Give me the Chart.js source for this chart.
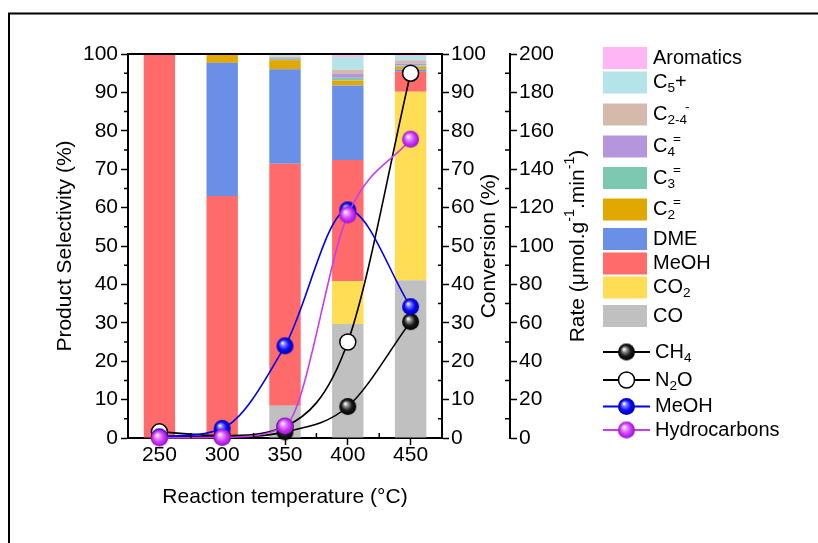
<!DOCTYPE html>
<html>
<head>
<meta charset="utf-8">
<script src="https://cdn.jsdelivr.net/npm/chart.js@4.4.1/dist/chart.umd.min.js"></script>
<style>
  html, body { margin: 0; padding: 0; background: #fff; }
  #wrap { width: 818px; height: 543px; }
</style>
</head>
<body>
<div id="wrap"><canvas id="myChart"></canvas></div>
<script>
/* globals Chart:false */
const temperatures = ["250", "300", "350", "400", "450"];

// product selectivity (%), stacked bottom-up
const coSel = [0, 0, 8.4, 29.7, 41.1];
const co2Sel = [0, 0, 0, 11.2, 49.1];
const meohSel = [100, 63.0, 63.0, 31.5, 5.2];
const dmeSel = [0, 34.7, 24.6, 19.4, 0.5];
const c2eneSel = [0, 2.3, 2.4, 1.3, 0.8];
const c3eneSel = [0, 0, 0.3, 0.7, 0.3];
const c4eneSel = [0, 0, 0.2, 1.0, 0.5];
const c24aneSel = [0, 0, 0.4, 1.1, 0.9];
const c5Sel = [0, 0, 0.7, 3.3, 1.1];
const aromSel = [0, 0, 0, 0.8, 0.4];

// conversion (%)
const ch4Conv = [0.5, 0.3, 1.6, 8.2, 30.3];
const n2oConv = [1.6, 0.6, 3.0, 25.0, 95.0];

// rate (umol g-1 min-1)
const meohRate = [0.6, 5.0, 48.0, 118.8, 68.4];
const hcRate = [0.0, 0.3, 6.2, 116.2, 155.6];

const selTicks = [0, 10, 20, 30, 40, 50, 60, 70, 80, 90, 100];
const convTicks = [0, 10, 20, 30, 40, 50, 60, 70, 80, 90, 100];
const rateTicks = [0, 20, 40, 60, 80, 100, 120, 140, 160, 180, 200];

const FONT = '"Liberation Sans", Arial, sans-serif';

function sphere(light, base, dark, r) {
  const c = document.createElement("canvas");
  const s = Math.ceil(r * 2 + 2);
  c.width = s;
  c.height = s;
  const g = c.getContext("2d");
  const cx = s / 2, cy = s / 2;
  const grad = g.createRadialGradient(cx - r * 0.3, cy - r * 0.35, r * 0.05, cx, cy, r);
  grad.addColorStop(0, "#ffffff");
  grad.addColorStop(0.22, light);
  grad.addColorStop(0.6, base);
  grad.addColorStop(1, dark);
  g.fillStyle = grad;
  g.beginPath();
  g.arc(cx, cy, r, 0, Math.PI * 2);
  g.fill();
  return c;
}

const blackBall = sphere("#9a9a9a", "#1a1a1a", "#000000", 8.5);
const blueBall = sphere("#8080ff", "#0a0aff", "#0000a8", 8.5);
const pinkBall = sphere("#eaa0ff", "#cf3cff", "#9a10c8", 8.5);

// rich text: parts of {t, s} where s = "sub" | "sup"
function drawParts(ctx, parts, x, y, size, doDraw) {
  let cx = x;
  let prev = null;
  for (const p of parts) {
    const fs = p.s ? size * 0.68 : size;
    ctx.font = fs + "px " + FONT;
    const dy = p.s === "sub" ? size * 0.3 : (p.s ? -size * 0.38 : 0);
    // a superscript right after a subscript tucks in slightly
    const px = p.s === "sup" && prev === "sub" ? cx - 2 : cx;
    if (doDraw) ctx.fillText(p.t, px, y + dy);
    cx = px + ctx.measureText(p.t).width;
    prev = p.s || null;
  }
  return cx - x;
}

function barSet(label, rich, data, color) {
  return {
    type: "bar",
    label: label,
    rich: rich,
    data: data,
    backgroundColor: color,
    borderWidth: 0,
    yAxisID: "y",
    order: 10,
  };
}

function lineSet(label, rich, data, color, point, axis, order) {
  return {
    type: "line",
    label: label,
    rich: rich,
    data: data,
    borderColor: color,
    borderWidth: 1.6,
    backgroundColor: "#ffffff",
    pointStyle: point,
    pointRadius: 8,
    pointBorderColor: "#000",
    pointBorderWidth: 1.5,
    cubicInterpolationMode: "monotone",
    yAxisID: axis,
    clip: false,
    order: order,
  };
}

const datasets = [
  barSet("CO", [{ t: "CO" }], coSel, "#c0c0c0"),
  barSet("CO2", [{ t: "CO" }, { t: "2", s: "sub" }], co2Sel, "#ffdd55"),
  barSet("MeOH", [{ t: "MeOH" }], meohSel, "#ff6b6b"),
  barSet("DME", [{ t: "DME" }], dmeSel, "#6a8fe6"),
  barSet("C2=", [{ t: "C" }, { t: "2", s: "sub" }, { t: "=", s: "sup" }], c2eneSel, "#e0a800"),
  barSet("C3=", [{ t: "C" }, { t: "3", s: "sub" }, { t: "=", s: "sup" }], c3eneSel, "#7dc9b0"),
  barSet("C4=", [{ t: "C" }, { t: "4", s: "sub" }, { t: "=", s: "sup" }], c4eneSel, "#b596dd"),
  barSet("C2-4-", [{ t: "C" }, { t: "2-4", s: "sub" }, { t: "-", s: "sup" }], c24aneSel, "#d5baac"),
  barSet("C5+", [{ t: "C" }, { t: "5", s: "sub" }, { t: "+" }], c5Sel, "#b5e4e8"),
  barSet("Aromatics", [{ t: "Aromatics" }], aromSel, "#ffb6f4"),
  lineSet("CH4", [{ t: "CH" }, { t: "4", s: "sub" }], ch4Conv, "#000000", blackBall, "yConv", 4),
  lineSet("N2O", [{ t: "N" }, { t: "2", s: "sub" }, { t: "O" }], n2oConv, "#000000", "circle", "yConv", 3),
  lineSet("MeOH", [{ t: "MeOH" }], meohRate, "#0000ee", blueBall, "yRate", 2),
  lineSet("Hydrocarbons", [{ t: "Hydrocarbons" }], hcRate, "#c83cf0", pinkBall, "yRate", 1),
];

const frame = {
  id: "frame",
  beforeDraw(chart) {
    const ctx = chart.ctx;
    ctx.save();
    ctx.fillStyle = "#fff";
    ctx.fillRect(0, 0, chart.width, chart.height);
    ctx.strokeStyle = "#000";
    ctx.lineWidth = 2;
    ctx.beginPath();
    ctx.moveTo(9, chart.height);
    ctx.lineTo(9, 13.5);
    ctx.lineTo(chart.width, 13.5);
    ctx.stroke();
    ctx.restore();
  },
};

const extras = {
  id: "extras",
  afterDraw(chart) {
    const ctx = chart.ctx;
    const area = chart.chartArea;
    const s = chart.scales;
    ctx.save();
    ctx.strokeStyle = "#000";
    ctx.fillStyle = "#000";

    // top frame line
    ctx.lineWidth = 2;
    ctx.beginPath();
    ctx.moveTo(area.left - 1, area.top);
    ctx.lineTo(area.right + 1, area.top);
    ctx.stroke();

    // minor ticks
    ctx.lineWidth = 1.5;
    ctx.beginPath();
    for (let v = 5; v < 100; v += 10) {
      const py = s.y.getPixelForValue(v);
      ctx.moveTo(area.left, py);
      ctx.lineTo(area.left - 4, py);
      const pc = s.yConv.getPixelForValue(v);
      ctx.moveTo(area.right, pc);
      ctx.lineTo(area.right - 4, pc);
    }
    for (let v = 10; v < 200; v += 20) {
      const pr = s.yRate.getPixelForValue(v);
      ctx.moveTo(s.yRate.left, pr);
      ctx.lineTo(s.yRate.left - 5, pr);
    }
    for (let i = 0; i < temperatures.length - 1; i++) {
      const px = (s.x.getPixelForValue(i) + s.x.getPixelForValue(i + 1)) / 2;
      ctx.moveTo(px, area.bottom);
      ctx.lineTo(px, area.bottom - 5);
    }
    ctx.stroke();

    // right axis titles, reading bottom to top
    const midY = (area.top + area.bottom) / 2;
    const titles = [
      { x: s.yConv.right - 21, parts: [{ t: "Conversion (%)" }] },
      {
        x: s.yRate.right - 10,
        parts: [
          { t: "Rate (\u03bcmol.g" }, { t: "-1", s: "sup" },
          { t: ".min" }, { t: "-1", s: "sup" }, { t: ")" },
        ],
      },
    ];
    ctx.textBaseline = "middle";
    ctx.textAlign = "left";
    for (const tt of titles) {
      const w = drawParts(ctx, tt.parts, 0, 0, 21, false);
      ctx.save();
      ctx.translate(tt.x, midY);
      ctx.rotate(-Math.PI / 2);
      drawParts(ctx, tt.parts, -w / 2, 0, 21, true);
      ctx.restore();
    }

    // legend
    const ds = chart.data.datasets;
    const rows = [
      { i: 9, y: 58 }, { i: 8, y: 82.5 }, { i: 7, y: 114.5 }, { i: 6, y: 146.5 },
      { i: 5, y: 178 }, { i: 4, y: 209.5 }, { i: 3, y: 239 }, { i: 2, y: 263.5 },
      { i: 1, y: 287.5 }, { i: 0, y: 316 },
      { i: 10, y: 352 }, { i: 11, y: 380 }, { i: 12, y: 406.5 }, { i: 13, y: 430 },
    ];
    for (const r of rows) {
      const d = ds[r.i];
      if (d.type === "bar") {
        ctx.fillStyle = d.backgroundColor;
        ctx.fillRect(603, r.y - 11, 44, 22);
        ctx.fillStyle = "#000";
        drawParts(ctx, d.rich, 653, r.y, 20, true);
      } else {
        ctx.strokeStyle = d.borderColor;
        ctx.lineWidth = 2;
        ctx.beginPath();
        ctx.moveTo(603, r.y);
        ctx.lineTo(650, r.y);
        ctx.stroke();
        if (d.pointStyle === "circle") {
          ctx.fillStyle = "#fff";
          ctx.strokeStyle = "#000";
          ctx.lineWidth = 1.5;
          ctx.beginPath();
          ctx.arc(626.5, r.y, 8, 0, Math.PI * 2);
          ctx.fill();
          ctx.stroke();
        } else {
          const img = d.pointStyle;
          ctx.drawImage(img, 626.5 - img.width / 2, r.y - img.height / 2);
        }
        ctx.fillStyle = "#000";
        drawParts(ctx, d.rich, 655, r.y, 20, true);
      }
    }
    ctx.restore();
  },
};

document.addEventListener("DOMContentLoaded", () => {
  const canvas = document.getElementById("myChart");
  if (!canvas) {
    console.error("Canvas element not found");
    return;
  }
  Chart.defaults.font.family = FONT;
  Chart.defaults.font.size = 21;
  Chart.defaults.color = "#000";

  const axisGrid = {
    drawOnChartArea: false,
    drawTicks: true,
    tickLength: 7,
    tickWidth: 1.5,
    color: "#000",
  };

  new Chart(canvas.getContext("2d"), {
    type: "bar",
    data: { labels: temperatures, datasets: datasets },
    plugins: [frame, extras],
    options: {
      responsive: true,
      maintainAspectRatio: false,
      animation: false,
      devicePixelRatio: 1,
      layout: { padding: { left: 53, top: 54, right: 230, bottom: 33 } },
      plugins: {
        legend: { display: false },
        tooltip: { enabled: false },
      },
      datasets: {
        bar: { barPercentage: 0.5, categoryPercentage: 1.0 },
      },
      scales: {
        x: {
          stacked: true,
          offset: true,
          grid: Object.assign({}, axisGrid, { offset: false }),
          border: { color: "#000", width: 2 },
          ticks: { padding: -2, maxRotation: 0 },
          title: {
            display: true,
            text: "Reaction temperature (\u00b0C)",
            font: { size: 21 },
            padding: { top: 0, bottom: 0 },
          },
          afterFit: (scale) => { scale.height = 72; },
        },
        y: {
          stacked: true,
          position: "left",
          min: 0,
          max: 100,
          afterBuildTicks: (scale) => { scale.ticks = selTicks.map((v) => ({ value: v })); },
          grid: axisGrid,
          border: { color: "#000", width: 2 },
          ticks: { padding: 3 },
          title: {
            display: true,
            text: "Product Selectivity (%)",
            font: { size: 21 },
            padding: { top: 0, bottom: 0 },
          },
          afterFit: (scale) => { scale.width = 75; },
        },
        yConv: {
          position: "right",
          weight: 0,
          min: 0,
          max: 100,
          afterBuildTicks: (scale) => { scale.ticks = convTicks.map((v) => ({ value: v })); },
          grid: axisGrid,
          border: { color: "#000", width: 2 },
          ticks: { padding: 2 },
          afterFit: (scale) => { scale.width = 68; },
        },
        yRate: {
          position: "right",
          weight: 1,
          min: 0,
          max: 200,
          afterBuildTicks: (scale) => { scale.ticks = rateTicks.map((v) => ({ value: v })); },
          grid: axisGrid,
          border: { color: "#000", width: 2 },
          ticks: { padding: 2 },
          afterFit: (scale) => { scale.width = 78; },
        },
      },
    },
  });
});
</script>
</body>
</html>
